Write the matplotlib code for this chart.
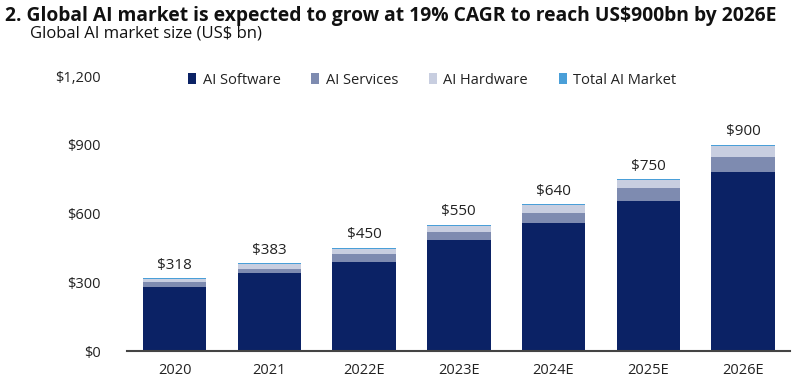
import matplotlib.pyplot as plt
import numpy as np

plt.rcParams['font.family'] = ['Open Sans', 'DejaVu Sans']

years = ["2020", "2021", "2022E", "2023E", "2024E", "2025E", "2026E"]
software = [279, 339, 390, 484, 557, 656, 782]
services = [22, 19, 33, 37, 44, 54, 66]
hardware = [13, 22, 21, 26, 37, 36, 48]
totals = [318, 383, 450, 550, 640, 750, 900]

c_soft = "#0b2265"
c_serv = "#7e8bb0"
c_hard = "#c8cee0"
c_total = "#4a9fd8"

x = np.arange(len(years))
sw = np.array(software)
sv = np.array(services)
hw = np.array(hardware)
tot = np.array(totals)
rest = tot - sw - sv - hw

fig = plt.figure(figsize=(8, 3.9), dpi=100)
ax = fig.add_axes([0.159, 0.1, 0.829, 0.705])

w = 0.67
ax.bar(x, sw, w, color=c_soft, label="AI Software")
ax.bar(x, sv, w, bottom=sw, color=c_serv, label="AI Services")
ax.bar(x, hw, w, bottom=sw + sv, color=c_hard, label="AI Hardware")
ax.bar(x, rest, w, bottom=sw + sv + hw, color=c_total, label="Total AI Market")

for xi, t in zip(x, tot):
    ax.annotate(f"${t:,}", (xi, t), xytext=(0, 4), textcoords="offset points",
                ha="center", va="bottom", fontsize=11, color="#222222")

ax.set_xlim(-0.5, len(years) - 0.5)
ax.set_ylim(0, 1200)
ax.set_yticks([0, 300, 600, 900, 1200])
ax.set_yticklabels(["$0", "$300", "$600", "$900", "$1,200"])
ax.set_xticks(x)
ax.set_xticklabels(years)
ax.tick_params(axis="both", length=0, labelsize=10.5, colors="#222222")
ax.tick_params(axis="y", pad=19)
ax.tick_params(axis="x", pad=9)
for s in ["top", "right", "left"]:
    ax.spines[s].set_visible(False)
ax.spines["bottom"].set_color("#444444")
ax.spines["bottom"].set_linewidth(1.5)

ax.legend(loc="upper center", bbox_to_anchor=(0.46, 1.06), ncol=4, frameon=False,
          fontsize=10.5, handlelength=0.55, handleheight=0.7, columnspacing=2.1,
          handletextpad=0.45, labelcolor="#222222")

fig.text(0.006, 0.985, "2. Global AI market is expected to grow at 19% CAGR to reach US$900bn by 2026E",
         fontsize=13.9, fontweight="bold", ha="left", va="top", color="#111111")
fig.text(0.037, 0.935, "Global AI market size (US$ bn)", fontsize=12, ha="left", va="top",
         color="#111111")

fig.savefig("out.png", dpi=100)
